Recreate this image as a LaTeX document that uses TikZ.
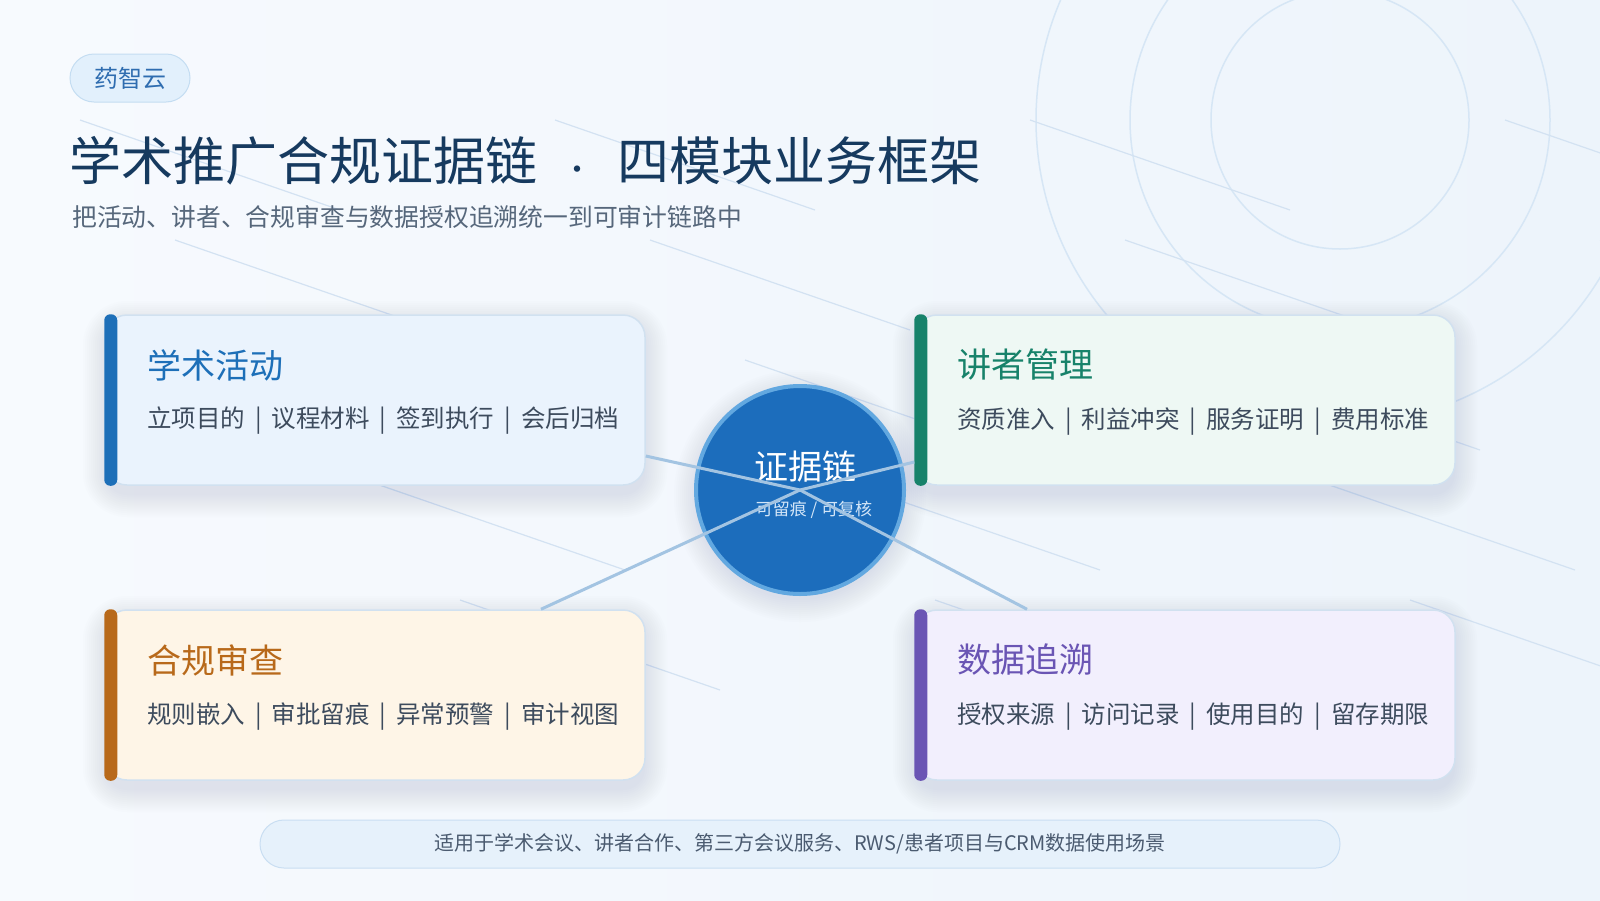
\documentclass[tikz,border=0pt]{standalone}
\usepackage{fontspec}
\setmainfont{Noto Sans CJK SC}
\usetikzlibrary{calc}
\definecolor{bgA}{HTML}{F7FAFE}
\definecolor{bgB}{HTML}{EDF4FB}
\definecolor{deco}{HTML}{D6E6F5}
\definecolor{bgline}{HTML}{D3E2F2}
\definecolor{navy}{HTML}{163A5F}
\definecolor{subgray}{HTML}{56677B}
\definecolor{itemgray}{HTML}{3D4B5D}
\definecolor{cardborder}{HTML}{D1E1F0}
\definecolor{blueA}{HTML}{1D6FB8}
\definecolor{blueF}{HTML}{EAF3FD}
\definecolor{greenA}{HTML}{17826A}
\definecolor{greenF}{HTML}{EEF8F4}
\definecolor{orangeA}{HTML}{B8691A}
\definecolor{orangeF}{HTML}{FEF5E7}
\definecolor{purpleA}{HTML}{6A55B4}
\definecolor{purpleF}{HTML}{F2EFFD}
\definecolor{hubfill}{HTML}{1C6DBC}
\definecolor{hubring}{HTML}{62A8E0}
\definecolor{hubsub}{HTML}{D3E6F8}
\definecolor{link}{HTML}{A3C4E2}
\definecolor{badgefill}{HTML}{E2F0FC}
\definecolor{badgeborder}{HTML}{C4DDF2}
\definecolor{badgetext}{HTML}{2F6DB0}
\definecolor{pillfill}{HTML}{E6F1FB}
\definecolor{pillborder}{HTML}{C9DEF2}
\definecolor{pilltext}{HTML}{4B5B70}
\definecolor{shadowcol}{HTML}{7D93B2}
\newcommand{\cardsep}{\hspace{10pt}|\hspace{10pt}}
% soft shadow of a card centred at (#1,#2)
\newcommand{\cardshadow}[2]{%
  \foreach \i in {0,...,11}{%
    \pgfmathsetmacro{\rr}{22+2*\i}%
    \pgfmathsetmacro{\dd}{2*\i}%
    \fill[shadowcol, fill opacity=0.014, rounded corners=\rr pt]
      ({#1-270-\dd},{#2-85+8-\dd}) rectangle ({#1+270+\dd},{#2+85+10+\dd});
  }%
}
\tikzset{
  cardbox/.style={rounded corners=22pt, draw=cardborder, line width=1.5pt,
    minimum width=540pt, minimum height=170pt, inner sep=0pt},
  cardtitle/.style={anchor=west, inner sep=0pt, font=\fontsize{34}{40}\selectfont},
  carditem/.style={anchor=west, inner sep=0pt, text=itemgray, font=\fontsize{24.5}{30}\selectfont},
  bgln/.style={draw=bgline, line width=1.2pt},
  decoring/.style={draw=deco, line width=1.5pt},
  linkline/.style={draw=link, line width=3pt},
}
\begin{document}
\begin{tikzpicture}[x=1pt,y=-1pt]
\useasboundingbox (0,0) rectangle (1600,900);
\shade[left color=bgA, right color=bgB] (0,0) rectangle (1600,900);
% decorative rings
\draw[decoring] (1340,120) circle[radius=129pt];
\draw[decoring] (1340,120) circle[radius=210pt];
\draw[decoring] (1340,120) circle[radius=304pt];
% background diagonal lines
\foreach \r in {0,...,4}{
  \foreach \k in {0,...,3}{
    \draw[bgln] ({80+95*\r+475*\k},{120+120*\r}) -- ++(260,90);
  }
}
% badge
\node[rounded corners=24pt, minimum width=120pt, minimum height=48pt, fill=badgefill,
  draw=badgeborder, line width=1pt, text=badgetext, inner sep=0pt,
  font=\fontsize{24}{28}\selectfont] (badge) at (130,78) {药智云};
% title and subtitle
\node[anchor=west, inner sep=0pt, text=navy, font=\fontsize{52}{60}\selectfont] (title) at (69,161)
  {学术推广合规证据链\makebox[80pt]{\fontsize{30}{30}\selectfont ·}四模块业务框架};
\node[anchor=west, inner sep=0pt, text=subgray, font=\fontsize{24.8}{30}\selectfont] (subtitle) at (72,217)
  {把活动、讲者、合规审查与数据授权追溯统一到可审计链路中};
% shadows
\cardshadow{375}{400}
\cardshadow{1185}{400}
\cardshadow{375}{695}
\cardshadow{1185}{695}
\foreach \i in {0,...,11}{
  \fill[shadowcol, fill opacity=0.016] (800,496) circle[radius={(104+2*\i)*1pt}];
}
% cards
\node[cardbox, fill=blueF] (tl) at (375,400) {};
\node[cardbox, fill=greenF] (tr) at (1185,400) {};
\node[cardbox, fill=orangeF] (bl) at (375,695) {};
\node[cardbox, fill=purpleF] (br) at (1185,695) {};
\fill[blueA, rounded corners=6pt] (tl.north west) rectangle ($(tl.south west)+(13,0)$);
\fill[greenA, rounded corners=6pt] (tr.north west) rectangle ($(tr.south west)+(13,0)$);
\fill[orangeA, rounded corners=6pt] (bl.north west) rectangle ($(bl.south west)+(13,0)$);
\fill[purpleA, rounded corners=6pt] (br.north west) rectangle ($(br.south west)+(13,0)$);
\node[cardtitle, text=blueA] (tlt) at (147,365) {学术活动};
\node[carditem] (tli) at (147,421) {立项目的\cardsep 议程材料\cardsep 签到执行\cardsep 会后归档};
\node[cardtitle, text=greenA] (trt) at (957,365) {讲者管理};
\node[carditem] (tri) at (957,422) {资质准入\cardsep 利益冲突\cardsep 服务证明\cardsep 费用标准};
\node[cardtitle, text=orangeA] (blt) at (147,660) {合规审查};
\node[carditem] (bli) at (147,717) {规则嵌入\cardsep 审批留痕\cardsep 异常预警\cardsep 审计视图};
\node[cardtitle, text=purpleA] (brt) at (957,660) {数据追溯};
\node[carditem] (bri) at (957,717) {授权来源\cardsep 访问记录\cardsep 使用目的\cardsep 留存期限};
% hub
\node[circle, fill=hubfill, draw=hubring, line width=4pt, minimum size=208pt, inner sep=0pt] (hub) at (800,490) {};
\node[text=white, inner sep=0pt, font=\fontsize{34}{40}\selectfont] (hubt) at (805,467) {证据链};
\node[text=hubsub, inner sep=0pt, font=\fontsize{17}{20}\selectfont] (hubs) at (814,510) {可留痕 / 可复核};
% connectors
\coordinate (ctl) at ($(tl.east)+(0,56)$);
\coordinate (ctr) at ($(tr.west)+(0,62)$);
\coordinate (cbl) at ($(bl.north)+(166,0)$);
\coordinate (cbr) at ($(br.north)+(-158,0)$);
\draw[linkline] (hub.center) -- (ctl);
\draw[linkline] (hub.center) -- (ctr);
\draw[linkline] (hub.center) -- (cbl);
\draw[linkline] (hub.center) -- (cbr);
% bottom pill
\node[rounded corners=24pt, minimum width=1080pt, minimum height=48pt, fill=pillfill,
  draw=pillborder, line width=1pt, text=pilltext, inner sep=0pt,
  font=\fontsize{20}{24}\selectfont] (pill) at (800,844)
  {适用于学术会议、讲者合作、第三方会议服务、RWS/患者项目与CRM数据使用场景};
\end{tikzpicture}
\end{document}
